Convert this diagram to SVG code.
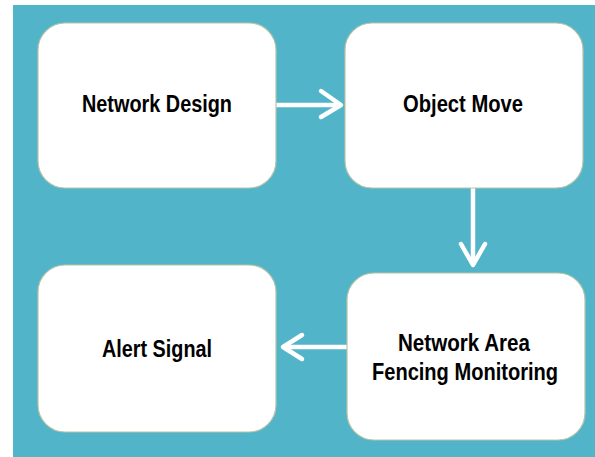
<svg xmlns="http://www.w3.org/2000/svg" width="595" height="457" viewBox="0 0 595 457">
<style>
.node rect{fill:#ffffff;stroke:#b8c4a8;stroke-width:1.2}
.node text{font-family:"Liberation Sans",Arial,sans-serif;font-weight:bold;font-size:23px;fill:#000000;text-anchor:middle}
.conn{fill:none;stroke:#ffffff;stroke-width:4.5;stroke-linecap:round;stroke-linejoin:round}
</style>
<rect x="0" y="0" width="595" height="457" fill="#ffffff"/>
<rect x="13" y="5" width="582" height="452" fill="#51b4c8"/>
<g id="connectors">
<g id="c1"><path class="conn" d="M276 105 H340"/><path class="conn" d="M321 91 L341 105 L321 117"/></g>
<g id="c2"><path class="conn" d="M473 188 V264"/><path class="conn" d="M461 244 L473 265 L485 244"/></g>
<g id="c3"><path class="conn" d="M346 347 H285"/><path class="conn" d="M302 335 L283 347 L302 359"/></g>
</g>
<g id="n1" class="node"><rect x="38" y="23" width="238" height="165" rx="27"/><text x="157" y="112" textLength="150" lengthAdjust="spacingAndGlyphs">Network Design</text></g>
<g id="n2" class="node"><rect x="345" y="23" width="238" height="165" rx="27"/><text x="463" y="112" textLength="120" lengthAdjust="spacingAndGlyphs">Object Move</text></g>
<g id="n3" class="node"><rect x="38" y="265" width="238" height="167" rx="27"/><text x="157" y="357" textLength="110" lengthAdjust="spacingAndGlyphs">Alert Signal</text></g>
<g id="n4" class="node"><rect x="347" y="273" width="238" height="167" rx="27"/><text x="464" y="351" textLength="132" lengthAdjust="spacingAndGlyphs">Network Area</text><text x="465" y="380" textLength="186" lengthAdjust="spacingAndGlyphs">Fencing Monitoring</text></g>
</svg>
